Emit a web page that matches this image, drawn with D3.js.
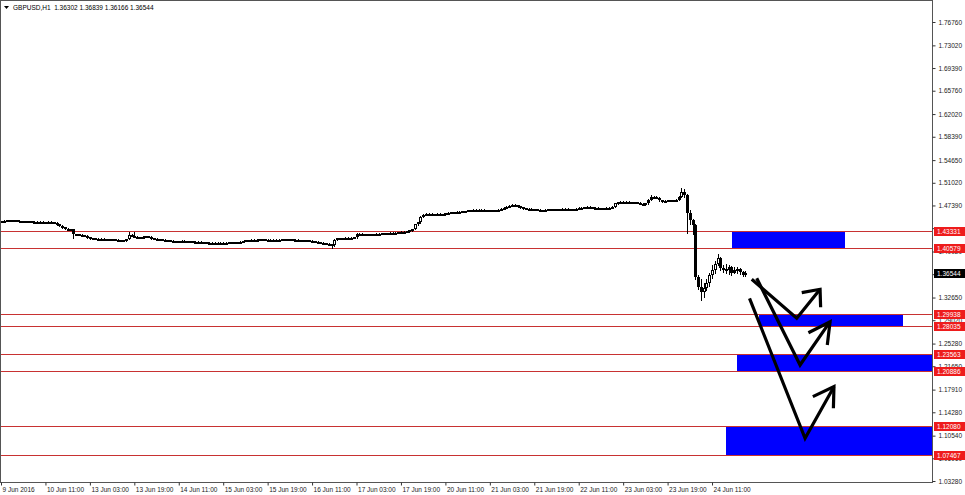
<!DOCTYPE html>
<html><head><meta charset="utf-8">
<script src="https://cdn.jsdelivr.net/npm/d3@7"></script>
<style>
html,body{margin:0;padding:0;background:#fff;}
svg{display:block;font-family:"Liberation Sans",Arial,sans-serif;}
</style></head><body>
<svg id="chart" width="965" height="495"></svg>
<script>
// ---------------- data ----------------
const symbolTitle = "GBPUSD,H1";
const lastBarOHLC = ["1.36302", "1.36839", "1.36166", "1.36544"];
const lastPrice = 1.36544;

const timeTickBars = [0, 16, 32, 48, 64, 80, 96, 112, 128, 144, 160, 176, 192, 208, 224, 240, 256];
const timeTickLabels = ["9 Jun 2016", "10 Jun 11:00", "13 Jun 03:00", "13 Jun 19:00", "14 Jun 11:00",
  "15 Jun 03:00", "15 Jun 19:00", "16 Jun 11:00", "17 Jun 03:00", "17 Jun 19:00", "20 Jun 11:00",
  "21 Jun 03:00", "21 Jun 19:00", "22 Jun 11:00", "23 Jun 03:00", "23 Jun 19:00", "24 Jun 11:00"];

const priceTicks = [1.76760, 1.73020, 1.69390, 1.65760, 1.62020, 1.58390, 1.54650, 1.51020, 1.47390,
  1.43760, 1.40020, 1.36390, 1.32650, 1.29020, 1.25280, 1.21650, 1.17910, 1.14280, 1.10540, 1.06910, 1.03280];

const firstOpen = 1.4485;
const closes = [
1.4490,1.4495,1.4500,1.4502,1.4505,1.4500,1.4492,1.4488,1.4485,1.4487,
1.4483,1.4480,1.4482,1.4478,1.4480,1.4476,1.4472,1.4478,1.4470,1.4462,
1.4440,1.4415,1.4395,1.4370,1.4360,1.4355,1.4280,1.4275,1.4270,1.4265,
1.4255,1.4230,1.4215,1.4212,1.4208,1.4210,1.4205,1.4203,1.4200,1.4198,
1.4195,1.4190,1.4178,1.4180,1.4185,1.4200,1.4265,1.4255,1.4240,1.4230,
1.4225,1.4235,1.4245,1.4240,1.4215,1.4205,1.4200,1.4198,1.4190,1.4185,
1.4180,1.4175,1.4170,1.4165,1.4170,1.4172,1.4168,1.4165,1.4170,1.4160,
1.4162,1.4158,1.4150,1.4148,1.4145,1.4142,1.4140,1.4138,1.4140,1.4142,
1.4140,1.4145,1.4150,1.4148,1.4152,1.4150,1.4158,1.4170,1.4180,1.4185,
1.4190,1.4185,1.4190,1.4195,1.4200,1.4192,1.4188,1.4192,1.4190,1.4185,
1.4190,1.4195,1.4198,1.4200,1.4195,1.4190,1.4188,1.4185,1.4180,1.4178,
1.4182,1.4175,1.4165,1.4160,1.4155,1.4145,1.4138,1.4130,1.4120,1.4100,
1.4190,1.4215,1.4218,1.4215,1.4220,1.4218,1.4222,1.4230,1.4285,1.4290,
1.4280,1.4275,1.4272,1.4278,1.4275,1.4285,1.4290,1.4295,1.4290,1.4298,
1.4300,1.4295,1.4305,1.4310,1.4315,1.4320,1.4325,1.4340,1.4360,1.4440,
1.4470,1.4560,1.4590,1.4600,1.4605,1.4598,1.4602,1.4610,1.4595,1.4590,
1.4615,1.4625,1.4628,1.4632,1.4635,1.4640,1.4645,1.4650,1.4660,1.4665,
1.4670,1.4668,1.4672,1.4670,1.4665,1.4660,1.4658,1.4660,1.4662,1.4670,
1.4685,1.4705,1.4720,1.4735,1.4750,1.4745,1.4730,1.4710,1.4695,1.4690,
1.4685,1.4680,1.4675,1.4668,1.4660,1.4665,1.4670,1.4675,1.4678,1.4680,
1.4682,1.4680,1.4683,1.4685,1.4680,1.4682,1.4678,1.4690,1.4700,1.4705,
1.4710,1.4718,1.4712,1.4705,1.4700,1.4695,1.4690,1.4695,1.4700,1.4705,
1.4720,1.4775,1.4790,1.4795,1.4800,1.4798,1.4795,1.4792,1.4790,1.4785,
1.4770,1.4760,1.4775,1.4830,1.4880,1.4870,1.4865,1.4820,1.4810,1.4815,
1.4820,1.4818,1.4825,1.4830,1.4880,1.4960,1.4900,1.4620,1.4500,1.4430,
1.3590,1.3440,1.3350,1.3420,1.3500,1.3620,1.3700,1.3800,1.3900,1.3730,
1.3720,1.3700,1.3750,1.3660,1.3700,1.3720,1.3680,1.36302,1.36544];

const highs = [
1.4498,1.4503,1.4508,1.4510,1.4512,1.4513,1.4506,1.4498,1.4495,1.4494,
1.4493,1.4490,1.4489,1.4488,1.4487,1.4486,1.4482,1.4485,1.4484,1.4476,
1.4468,1.4446,1.4422,1.4402,1.4378,1.4368,1.4362,1.4290,1.4283,1.4278,
1.4272,1.4262,1.4237,1.4222,1.4219,1.4217,1.4216,1.4212,1.4210,1.4207,
1.4205,1.4202,1.4196,1.4188,1.4193,1.4210,1.4310,1.4275,1.4318,1.4250,
1.4238,1.4243,1.4253,1.4252,1.4246,1.4222,1.4212,1.4207,1.4205,1.4197,
1.4192,1.4187,1.4182,1.4177,1.4178,1.4180,1.4179,1.4175,1.4178,1.4177,
1.4170,1.4169,1.4165,1.4157,1.4155,1.4152,1.4149,1.4147,1.4148,1.4150,
1.4149,1.4153,1.4158,1.4157,1.4160,1.4159,1.4166,1.4178,1.4188,1.4193,
1.4198,1.4197,1.4198,1.4203,1.4208,1.4207,1.4199,1.4200,1.4199,1.4197,
1.4198,1.4203,1.4206,1.4208,1.4207,1.4202,1.4197,1.4195,1.4192,1.4187,
1.4190,1.4189,1.4182,1.4172,1.4167,1.4162,1.4152,1.4145,1.4137,1.4128,
1.4200,1.4225,1.4226,1.4225,1.4228,1.4227,1.4230,1.4238,1.4295,1.4298,
1.4297,1.4287,1.4282,1.4286,1.4285,1.4293,1.4298,1.4303,1.4302,1.4306,
1.4308,1.4307,1.4313,1.4318,1.4323,1.4328,1.4333,1.4348,1.4368,1.4450,
1.4480,1.4570,1.4600,1.4612,1.4615,1.4613,1.4610,1.4618,1.4617,1.4602,
1.4623,1.4633,1.4636,1.4640,1.4643,1.4648,1.4653,1.4658,1.4668,1.4673,
1.4678,1.4677,1.4680,1.4679,1.4677,1.4672,1.4667,1.4668,1.4670,1.4678,
1.4693,1.4713,1.4728,1.4743,1.4760,1.4758,1.4752,1.4737,1.4717,1.4702,
1.4697,1.4692,1.4687,1.4682,1.4675,1.4673,1.4678,1.4683,1.4686,1.4688,
1.4690,1.4689,1.4691,1.4693,1.4692,1.4690,1.4689,1.4698,1.4708,1.4713,
1.4718,1.4726,1.4725,1.4719,1.4712,1.4707,1.4702,1.4703,1.4708,1.4713,
1.4728,1.4785,1.4800,1.4805,1.4810,1.4808,1.4805,1.4802,1.4800,1.4797,
1.4792,1.4777,1.4783,1.4840,1.4910,1.4895,1.4885,1.4872,1.4828,1.4823,
1.4828,1.4827,1.4833,1.4840,1.4895,1.5018,1.5000,1.4920,1.4660,1.4520,
1.4450,1.3620,1.3560,1.3500,1.3560,1.3660,1.3780,1.3850,1.3960,1.3920,
1.3780,1.3800,1.3790,1.3770,1.3760,1.3760,1.3730,1.3690,1.36839];

const lows = [
1.4478,1.4484,1.4489,1.4493,1.4496,1.4492,1.4485,1.4480,1.4478,1.4479,
1.4476,1.4473,1.4474,1.4471,1.4472,1.4469,1.4465,1.4466,1.4463,1.4455,
1.4432,1.4405,1.4386,1.4360,1.4350,1.4345,1.4215,1.4265,1.4262,1.4257,
1.4247,1.4222,1.4207,1.4205,1.4201,1.4201,1.4198,1.4196,1.4193,1.4191,
1.4188,1.4183,1.4170,1.4171,1.4174,1.4178,1.4195,1.4245,1.4232,1.4222,
1.4216,1.4218,1.4228,1.4232,1.4208,1.4197,1.4193,1.4191,1.4183,1.4178,
1.4173,1.4168,1.4163,1.4158,1.4159,1.4163,1.4161,1.4158,1.4158,1.4153,
1.4154,1.4151,1.4143,1.4141,1.4138,1.4135,1.4133,1.4131,1.4131,1.4133,
1.4133,1.4133,1.4138,1.4141,1.4141,1.4143,1.4143,1.4151,1.4163,1.4173,
1.4178,1.4178,1.4178,1.4183,1.4188,1.4185,1.4181,1.4181,1.4183,1.4178,
1.4178,1.4183,1.4188,1.4191,1.4188,1.4183,1.4181,1.4178,1.4173,1.4171,
1.4171,1.4168,1.4158,1.4153,1.4148,1.4138,1.4130,1.4122,1.4112,1.4063,
1.4095,1.4185,1.4208,1.4208,1.4208,1.4211,1.4211,1.4215,1.4225,1.4278,
1.4273,1.4268,1.4265,1.4265,1.4268,1.4268,1.4278,1.4283,1.4283,1.4283,
1.4291,1.4288,1.4288,1.4298,1.4303,1.4308,1.4313,1.4318,1.4333,1.4355,
1.4432,1.4462,1.4550,1.4582,1.4592,1.4590,1.4590,1.4595,1.4585,1.4582,
1.4584,1.4608,1.4618,1.4621,1.4625,1.4628,1.4633,1.4638,1.4643,1.4653,
1.4658,1.4661,1.4661,1.4663,1.4658,1.4653,1.4651,1.4651,1.4653,1.4655,
1.4663,1.4678,1.4698,1.4713,1.4728,1.4738,1.4722,1.4702,1.4688,1.4683,
1.4678,1.4673,1.4668,1.4660,1.4652,1.4653,1.4658,1.4663,1.4668,1.4671,
1.4673,1.4673,1.4673,1.4676,1.4673,1.4673,1.4671,1.4671,1.4683,1.4693,
1.4698,1.4703,1.4705,1.4698,1.4693,1.4688,1.4683,1.4683,1.4688,1.4693,
1.4698,1.4712,1.4768,1.4783,1.4788,1.4790,1.4788,1.4785,1.4783,1.4778,
1.4762,1.4752,1.4753,1.4768,1.4822,1.4860,1.4855,1.4810,1.4800,1.4803,
1.4808,1.4811,1.4811,1.4818,1.4822,1.4870,1.4880,1.4300,1.4450,1.4280,
1.3560,1.3400,1.3229,1.3280,1.3380,1.3450,1.3580,1.3650,1.3780,1.3700,
1.3680,1.3660,1.3640,1.3620,1.3650,1.3660,1.3640,1.3610,1.36166];

// horizontal levels (red lines with price labels)
const levels = [1.43331, 1.40579, 1.29938, 1.28035, 1.23563, 1.20886, 1.12080, 1.07467];

// blue zones (bar index from / to, price top / bottom)
const zoneFrom   = [263.1, 272.9, 264.9, 260.9];
const zoneTo     = [303.9, 324.8, 335.2, 335.2];
const zoneTop    = [1.43331, 1.29938, 1.23563, 1.12080];
const zoneBottom = [1.40579, 1.28035, 1.20886, 1.07467];

// hand-drawn arrows: [bar index, price]
const arrowPaths = [
  [[270.3, 1.3557], [286.5, 1.2933], [294.9, 1.3397]],
  [[272.1, 1.3573], [287.7, 1.2185], [298.5, 1.2878]],
  [[269.5, 1.3253], [289.5, 1.1012], [299.9, 1.1838]]
];
const arrowHeads = [
  [[288.3, 1.3343], [294.9, 1.3397], [295.1, 1.3109]],
  [[290.7, 1.2702], [298.5, 1.2878], [297.5, 1.2505]],
  [[292.3, 1.1678], [299.9, 1.1838], [299.7, 1.1492]]
];

// ---------------- drawing ----------------
const svg = d3.select("#chart");
const plotRight = 932;
const plotBottom = 482;
const x = d3.scaleLinear().domain([0, 335.2]).range([1, plotRight]);
const y = d3.scaleLinear().domain([1.03280, 1.76760]).range([481, 22]);
const font = "6.5px";
const labelled = levels.concat([lastPrice]);

svg.append("rect").attr("width", 965).attr("height", 495).attr("fill", "#fff");

svg.append("defs").append("clipPath").attr("id", "plot")
  .append("rect").attr("x", 1).attr("y", 1).attr("width", plotRight - 1).attr("height", plotBottom - 1);

const plot = svg.append("g").attr("clip-path", "url(#plot)");

// zones
plot.selectAll("rect.zone").data(zoneFrom).join("rect").attr("class", "zone")
  .attr("x", (d, i) => Math.round(x(zoneFrom[i])))
  .attr("width", (d, i) => Math.round(x(zoneTo[i])) - Math.round(x(zoneFrom[i])))
  .attr("y", (d, i) => Math.round(y(zoneTop[i])))
  .attr("height", (d, i) => Math.round(y(zoneBottom[i])) - Math.round(y(zoneTop[i])))
  .attr("fill", "#0000ff");

// level lines
plot.selectAll("line.level").data(levels).join("line").attr("class", "level")
  .attr("x1", 1).attr("x2", plotRight)
  .attr("y1", d => Math.round(y(d)) + 0.5).attr("y2", d => Math.round(y(d)) + 0.5)
  .attr("stroke", "#c83232").attr("stroke-width", 1);

// candles
const bars = closes.map((c, i) => ({
  i, o: i === 0 ? firstOpen : closes[i - 1], h: highs[i], l: lows[i], c
}));
const cg = plot.append("g").attr("shape-rendering", "crispEdges");
bars.forEach(b => {
  const cx = Math.round(x(b.i));
  cg.append("line").attr("x1", cx + 0.5).attr("x2", cx + 0.5)
    .attr("y1", Math.round(y(b.h))).attr("y2", Math.round(y(b.l)) + 1)
    .attr("stroke", "#000").attr("stroke-width", 1);
  const top = Math.round(y(Math.max(b.o, b.c)));
  const bot = Math.round(y(Math.min(b.o, b.c)));
  const hgt = Math.max(2, bot - top);
  if (b.c >= b.o && hgt > 3) {
    cg.append("rect").attr("x", cx - 0.5).attr("y", top + 0.5)
      .attr("width", 2).attr("height", hgt - 1)
      .attr("fill", "#fff").attr("stroke", "#000").attr("stroke-width", 1);
  } else {
    cg.append("rect").attr("x", cx - 1).attr("y", top)
      .attr("width", 3).attr("height", hgt).attr("fill", "#000");
  }
});

// arrows
const line = d3.line().x(d => x(d[0])).y(d => y(d[1]));
plot.selectAll("path.arrow").data(arrowPaths.concat(arrowHeads)).join("path").attr("class", "arrow")
  .attr("d", line).attr("fill", "none").attr("stroke", "#000")
  .attr("stroke-width", 3.2).attr("stroke-linejoin", "miter").attr("stroke-linecap", "butt");

// frame
svg.append("rect").attr("x", 0.5).attr("y", 0.5).attr("width", plotRight).attr("height", plotBottom)
  .attr("fill", "none").attr("stroke", "#555").attr("stroke-width", 1).attr("shape-rendering", "crispEdges");

// right price axis (labels fully hidden behind a price label are not drawn, as in the terminal)
const yAxis = d3.axisRight(y).tickValues(priceTicks)
  .tickFormat(d => labelled.some(v => Math.abs(y(v) - y(d)) < 2.9) ? "" : d3.format(".5f")(d))
  .tickSize(3).tickSizeOuter(0).tickPadding(3);
const ya = svg.append("g").attr("transform", `translate(${plotRight + 0.5},0)`).call(yAxis);
ya.select(".domain").remove();
ya.selectAll("line").attr("stroke", "#333");
ya.selectAll("text").attr("font-size", font).attr("fill", "#222")
  .attr("font-family", "Liberation Sans, Arial, sans-serif");

// bottom time axis
const xAxis = d3.axisBottom(x).tickValues(timeTickBars)
  .tickFormat((d, i) => timeTickLabels[i]).tickSize(3).tickSizeOuter(0).tickPadding(2);
const xa = svg.append("g").attr("transform", `translate(0,${plotBottom + 0.5})`).call(xAxis);
xa.select(".domain").remove();
xa.selectAll("line").attr("stroke", "#333");
xa.selectAll("text").attr("font-size", font).attr("fill", "#222")
  .attr("text-anchor", "start").attr("x", 1)
  .attr("font-family", "Liberation Sans, Arial, sans-serif");

// level price labels
const lab = svg.append("g");
levels.forEach(v => {
  const yy = Math.round(y(v));
  lab.append("rect").attr("x", 934).attr("y", yy - 4).attr("width", 31).attr("height", 9).attr("fill", "#ee1c1c");
  lab.append("text").attr("x", 937).attr("y", yy + 2.5).attr("font-size", font).attr("fill", "#fff")
    .text(d3.format(".5f")(v));
});
{
  const yy = Math.round(y(lastPrice));
  lab.append("rect").attr("x", 934).attr("y", yy - 4).attr("width", 31).attr("height", 9).attr("fill", "#000");
  lab.append("text").attr("x", 937).attr("y", yy + 2.5).attr("font-size", font).attr("fill", "#fff")
    .text(d3.format(".5f")(lastPrice));
}

// title
svg.append("path").attr("d", "M4,6 L9,6 L6.5,9 Z").attr("fill", "#000");
svg.append("text").attr("x", 13).attr("y", 10).attr("font-size", font).attr("fill", "#000")
  .attr("xml:space", "preserve").style("white-space", "pre")
  .text(symbolTitle + "  " + lastBarOHLC.join(" "));
</script>
</body></html>
